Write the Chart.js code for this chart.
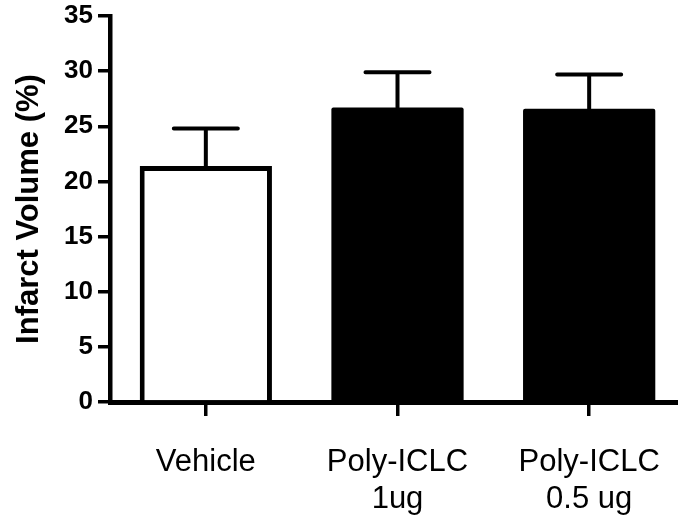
<!DOCTYPE html>
<html>
<head>
<meta charset="utf-8">
<title>Infarct Volume</title>
<script src="https://cdn.jsdelivr.net/npm/chart.js@4"></script>
<style>
html, body { margin:0; padding:0; background:#fff; overflow:hidden; }
#wrap { width:690px; height:518px; position:relative; }
</style>
</head>
<body>
<div id="wrap"><canvas id="infarct"></canvas></div>
<script>
// values
const groups = ['Vehicle', ['Poly-ICLC', '1ug'], ['Poly-ICLC', '0.5 ug']];
const means = [21.4, 26.7, 26.6];
const sem = [3.4, 3.2, 3.1];
const fills = ['#ffffff', '#000000', '#000000'];
const yTicks = [0, 5, 10, 15, 20, 25, 30, 35];

const FONT = "'Liberation Sans', Arial, Helvetica, sans-serif";

// SEM bars above each column (upper side only, like the original)
const errorBars = {
    id: 'errorBars',
    beforeDatasetsDraw(chart) {
        const ctx = chart.ctx;
        const y = chart.scales.y;
        const meta = chart.getDatasetMeta(0);
        ctx.save();
        ctx.strokeStyle = '#000';
        ctx.lineWidth = 4;
        ctx.lineCap = 'round';
        meta.data.forEach(function(bar, i){
            let top = y.getPixelForValue(means[i] + sem[i]);
            ctx.beginPath();
            ctx.moveTo(bar.x, bar.y);
            ctx.lineTo(bar.x, top);
            ctx.moveTo(bar.x - 32, top);
            ctx.lineTo(bar.x + 32, top);
            ctx.stroke();
        });
        ctx.restore();
    }
};

let ctx = document.getElementById('infarct');
let infarctChart = new Chart(ctx, {
    type: 'bar',
    data: {
        labels: groups,
        datasets: [{
            data: means,
            backgroundColor: fills,
            borderColor: '#000',
            // only the open (white) bar needs an outline
            borderWidth: c => fills[c.dataIndex] === '#ffffff' ? 5 : 0,
            borderRadius: c => fills[c.dataIndex] === '#ffffff' ? 0 : 2,
            categoryPercentage: 1,
            barPercentage: 0.69
        }]
    },
    options: {
        responsive: true,
        maintainAspectRatio: false,
        animation: false,
        layout: { padding: { top: 0, right: 5, bottom: 0, left: 0 } },
        plugins: {
            legend: { display: false },
            tooltip: { enabled: false }
        },
        scales: {
            x: {
                z: 1,
                afterFit: function(s){ s.height = 116; s.paddingLeft = 0; s.paddingRight = 0; },
                grid: { offset: false, drawOnChartArea: false, drawTicks: true, tickLength: 14, lineWidth: 3.5, color: '#000' },
                border: { display: true, color: '#000', width: 5 },
                ticks: {
                    color: '#000',
                    font: { family: FONT, size: 31 },
                    padding: 28,
                    maxRotation: 0,
                    autoSkip: false
                }
            },
            y: {
                min: 0,
                max: 35,
                afterBuildTicks: function(s){ s.ticks = yTicks.map(v => ({ value: v })); },
                afterFit: function(s){ s.width = 110; s.paddingTop = 16; s.paddingBottom = 0; },
                grid: { drawOnChartArea: false, tickLength: 12, lineWidth: 3.5, color: '#000' },
                border: { color: '#000', width: 4.5 },
                ticks: {
                    color: '#000',
                    font: { family: FONT, size: 26, weight: 'bold' },
                    padding: 5
                },
                title: {
                    display: true,
                    text: 'Infarct Volume (%)',
                    color: '#000',
                    font: { family: FONT, size: 31, weight: 'bold' },
                    padding: { top: 11, bottom: 0 }
                }
            }
        }
    },
    plugins: [errorBars]
});
</script>
</body>
</html>
